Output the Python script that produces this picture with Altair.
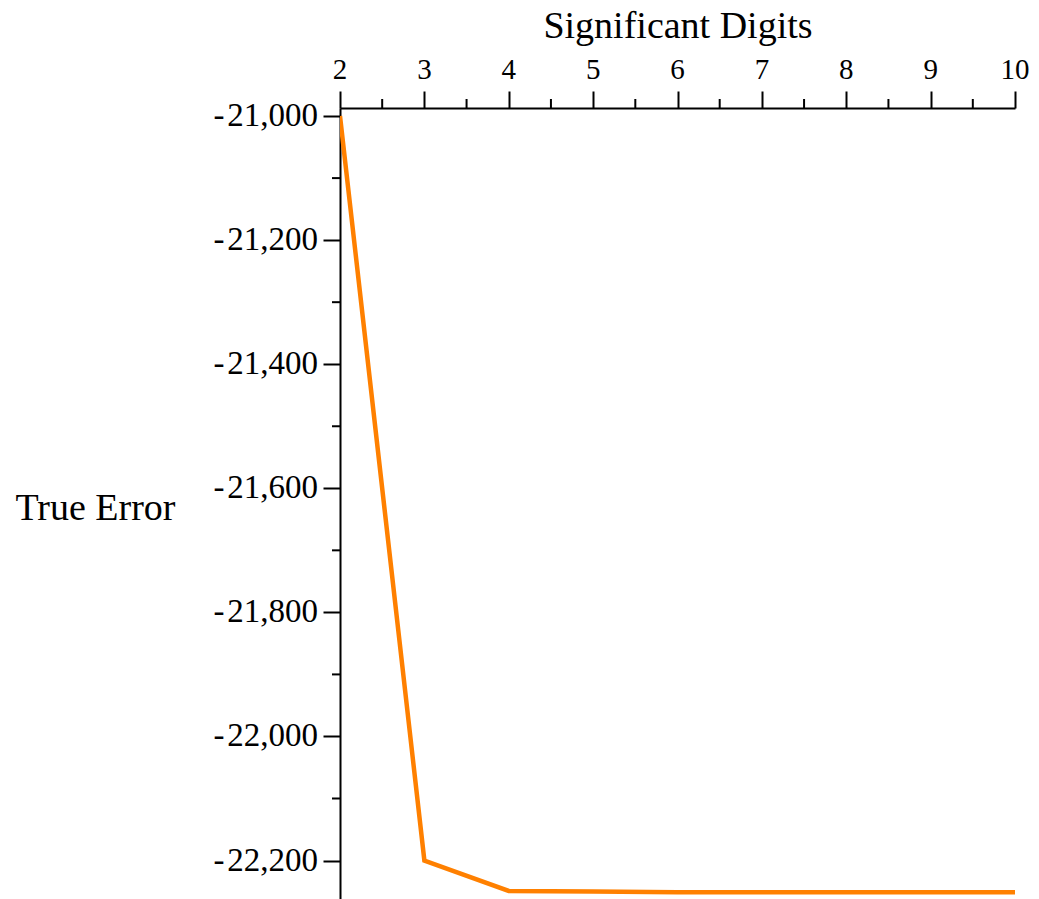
import altair as alt
import pandas as pd

# Data
digits = [2, 3, 4, 5, 6, 7, 8, 9, 10]
true_error = [-21000, -22200, -22249, -22250, -22251, -22251, -22251, -22251, -22251]

x_major = [2, 3, 4, 5, 6, 7, 8, 9, 10]
x_labels = ["2", "3", "4", "5", "6", "7", "8", "9", "10"]
x_minor = [2.5, 3.5, 4.5, 5.5, 6.5, 7.5, 8.5, 9.5]
y_major = [-21000, -21200, -21400, -21600, -21800, -22000, -22200]
y_labels = ["-\u200a21,000", "-\u200a21,200", "-\u200a21,400", "-\u200a21,600",
            "-\u200a21,800", "-\u200a22,000", "-\u200a22,200"]
y_minor = [-21100, -21300, -21500, -21700, -21900, -22100]

df = pd.DataFrame({"digits": digits, "err": true_error})
df_xminor = pd.DataFrame({"digits": x_minor})
df_yminor = pd.DataFrame({"err": y_minor})
df_xlab = pd.DataFrame({"digits": x_major, "lab": x_labels})
df_ylab = pd.DataFrame({"err": y_major, "lab": y_labels})

xdom = [2, 10]
ydom = [-22262, -20987]
FONT = "Liberation Serif"

xscale = alt.Scale(domain=xdom, nice=False, zero=False)
yscale = alt.Scale(domain=ydom, nice=False, zero=False)

line = alt.Chart(df).mark_line(color="#FF8000", strokeWidth=4.5, clip=True).encode(
    x=alt.X(
        "digits:Q",
        scale=xscale,
        title="Significant Digits",
        axis=alt.Axis(
            orient="top",
            values=x_major,
            labels=False,
            tickSize=17,
            titleFontSize=38,
            titleFont=FONT,
            titleY=-71,
            titleBaseline="alphabetic",
        ),
    ),
    y=alt.Y(
        "err:Q",
        scale=yscale,
        title="True Error",
        axis=alt.Axis(
            orient="left",
            values=y_major,
            labels=False,
            tickSize=17,
            titleFontSize=38,
            titleFont=FONT,
            titleAngle=0,
            titleX=-165,
            titleY=400,
            titleAlign="right",
            titleBaseline="middle",
        ),
    ),
)

xminor = alt.Chart(df_xminor).mark_rule(color="black", strokeWidth=2).encode(
    x=alt.X("digits:Q", scale=xscale),
    y=alt.value(0),
    y2=alt.value(-9),
)

yminor = alt.Chart(df_yminor).mark_rule(color="black", strokeWidth=2).encode(
    y=alt.Y("err:Q", scale=yscale),
    x=alt.value(0),
    x2=alt.value(-8),
)

xlab = alt.Chart(df_xlab).mark_text(
    font=FONT, fontSize=29, color="black", align="center", baseline="alphabetic"
).encode(
    x=alt.X("digits:Q", scale=xscale),
    y=alt.value(-29),
    text="lab:N",
)

ylab = alt.Chart(df_ylab).mark_text(
    font=FONT, fontSize=33, color="black", align="right", baseline="middle"
).encode(
    y=alt.Y("err:Q", scale=yscale),
    x=alt.value(-22),
    text="lab:N",
)

chart = (
    alt.layer(line, xminor, yminor, xlab, ylab)
    .properties(
        width=675,
        height=791,
        autosize=alt.AutoSizeParams(type="none"),
        padding={"left": 332, "top": 100, "right": 16, "bottom": 0},
        background="white",
    )
    .configure_view(stroke=None)
    .configure_axis(
        grid=False,
        domainColor="black",
        domainWidth=2,
        tickColor="black",
        tickWidth=2,
        titleColor="black",
        titleFont=FONT,
        titleFontWeight="normal",
    )
)

chart.save("out.html", embed_options={"renderer": "svg", "actions": False})
